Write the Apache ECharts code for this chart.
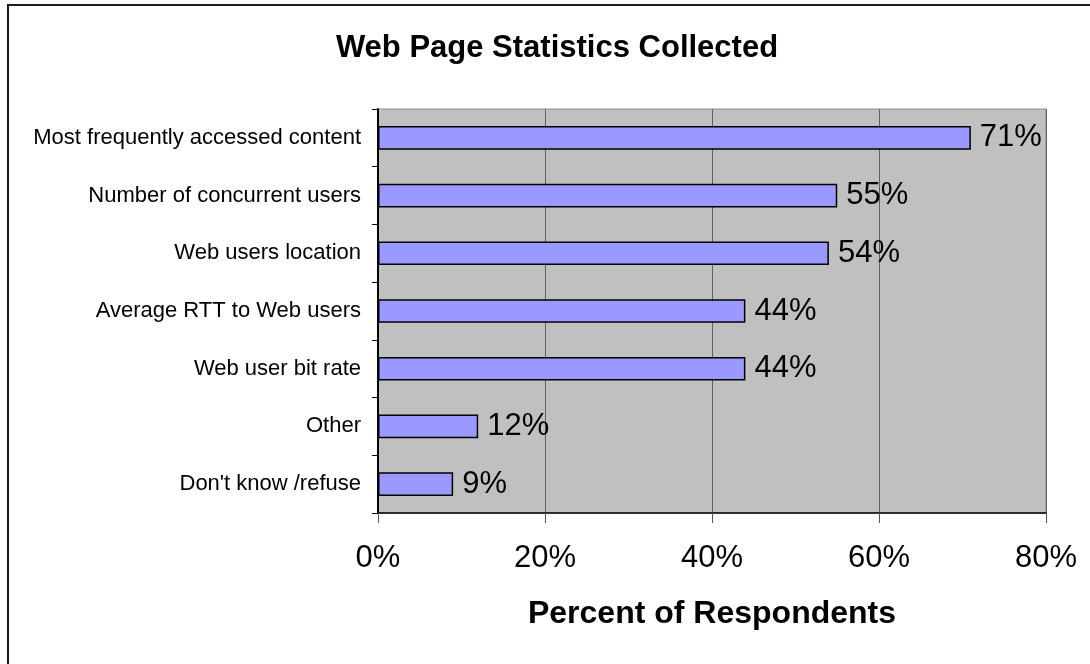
<!DOCTYPE html>
<html>
<head>
<meta charset="utf-8">
<title>Web Page Statistics Collected</title>
<script src="https://cdn.jsdelivr.net/npm/echarts@6/dist/echarts.min.js"></script>
<style>
  html, body { margin: 0; padding: 0; background: #ffffff; }
  #chart { width: 1090px; height: 664px; }
</style>
</head>
<body>
<div id="chart"></div>
<script>
// Survey answers, listed top to bottom as they appear on the chart
const categories = [
  'Most frequently accessed content',
  'Number of concurrent users',
  'Web users location',
  'Average RTT to Web users',
  'Web user bit rate',
  'Other',
  "Don't know /refuse"
];
// Share of respondents (%)
const percentValues = [71, 55, 54, 44, 44, 12, 9];
// Value axis range
const axisMin = 0;
const axisMax = 80;
const axisStep = 20;

const FONT = '"Liberation Sans", Arial, sans-serif';

const chart = echarts.init(document.getElementById('chart'), null, { renderer: 'canvas' });

chart.setOption({
  backgroundColor: '#ffffff',
  animation: false,
  graphic: [
    {
      // chart frame
      type: 'rect',
      shape: { x: 8, y: 5, width: 1200, height: 800 },
      style: { fill: 'none', stroke: '#1a1a1a', lineWidth: 2 },
      silent: true,
      z: 100
    },
    {
      // chart title
      type: 'text',
      x: 557,
      y: 33,
      style: {
        text: 'Web Page Statistics Collected',
        textAlign: 'center',
        textVerticalAlign: 'top',
        font: 'bold 31px ' + FONT,
        fill: '#000000'
      },
      silent: true
    }
  ],
  grid: {
    left: 378,
    right: 44,
    top: 109,
    bottom: 151,
    show: true,
    backgroundColor: '#c0c0c0',
    borderColor: '#8c8c8c',
    borderWidth: 1
  },
  xAxis: {
    type: 'value',
    min: axisMin,
    max: axisMax,
    interval: axisStep,
    name: 'Percent of Respondents',
    nameLocation: 'middle',
    nameGap: 85,
    nameTextStyle: {
      fontFamily: FONT,
      fontSize: 32,
      fontWeight: 'bold',
      color: '#000000'
    },
    axisLine: { show: true, lineStyle: { color: '#000000', width: 1.5 } },
    axisTick: { show: true, length: 10, inside: false, lineStyle: { color: '#555555', width: 1 } },
    axisLabel: {
      formatter: '{value}%',
      fontFamily: FONT,
      fontSize: 31,
      color: '#000000',
      margin: 30
    },
    splitLine: { show: true, lineStyle: { color: '#606060', width: 1 } }
  },
  yAxis: {
    type: 'category',
    data: categories,
    inverse: true,
    axisLine: { show: true, lineStyle: { color: '#000000', width: 2 } },
    axisTick: { show: true, length: 6, lineStyle: { color: '#000000', width: 1 } },
    axisLabel: {
      fontFamily: FONT,
      fontSize: 22,
      color: '#000000',
      margin: 17
    },
    splitLine: { show: false }
  },
  series: [{
    type: 'bar',
    data: percentValues,
    barWidth: '41%',
    itemStyle: {
      color: '#9999ff',
      borderColor: '#000000',
      borderWidth: 1.5
    },
    label: {
      show: true,
      position: 'right',
      distance: 9,
      formatter: '{c}%',
      fontFamily: FONT,
      fontSize: 31,
      color: '#000000'
    }
  }]
});
</script>
</body>
</html>
